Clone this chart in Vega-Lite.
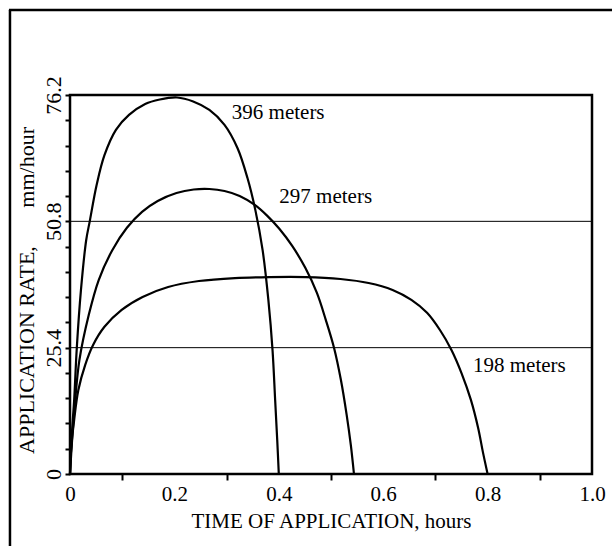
{
  "$schema": "https://vega.github.io/schema/vega-lite/v6.json",
  "autosize": {"type": "none"},
  "width": 522,
  "height": 379,
  "padding": {"left": 70, "top": 95, "right": 20, "bottom": 72},
  "background": "white",
  "config": {
    "font": "Liberation Serif",
    "view": {"stroke": "black", "strokeWidth": 2.5},
    "axis": {"domain": false, "grid": false, "tickColor": "black", "labelColor": "black", "titleColor": "black", "titleFontWeight": "normal", "labelFont": "Liberation Serif", "titleFont": "Liberation Serif", "labelOverlap": false}
  },
  "datasets": {
    "curves": [
      {"series": "396 meters", "t": 0, "rate": 0},
      {"series": "396 meters", "t": 0.004, "rate": 8.8},
      {"series": "396 meters", "t": 0.008, "rate": 14.9},
      {"series": "396 meters", "t": 0.013, "rate": 25.3},
      {"series": "396 meters", "t": 0.021, "rate": 37.0},
      {"series": "396 meters", "t": 0.031, "rate": 47.0},
      {"series": "396 meters", "t": 0.038, "rate": 50.9},
      {"series": "396 meters", "t": 0.051, "rate": 58.1},
      {"series": "396 meters", "t": 0.066, "rate": 64.1},
      {"series": "396 meters", "t": 0.088, "rate": 69.2},
      {"series": "396 meters", "t": 0.113, "rate": 72.2},
      {"series": "396 meters", "t": 0.144, "rate": 74.4},
      {"series": "396 meters", "t": 0.172, "rate": 75.3},
      {"series": "396 meters", "t": 0.205, "rate": 75.7},
      {"series": "396 meters", "t": 0.236, "rate": 74.9},
      {"series": "396 meters", "t": 0.267, "rate": 73.2},
      {"series": "396 meters", "t": 0.296, "rate": 70.2},
      {"series": "396 meters", "t": 0.321, "rate": 65.5},
      {"series": "396 meters", "t": 0.34, "rate": 59.5},
      {"series": "396 meters", "t": 0.355, "rate": 53.1},
      {"series": "396 meters", "t": 0.369, "rate": 45.0},
      {"series": "396 meters", "t": 0.38, "rate": 35.0},
      {"series": "396 meters", "t": 0.388, "rate": 24.9},
      {"series": "396 meters", "t": 0.393, "rate": 14.9},
      {"series": "396 meters", "t": 0.397, "rate": 6.8},
      {"series": "396 meters", "t": 0.4, "rate": 0},
      {"series": "297 meters", "t": 0, "rate": 0},
      {"series": "297 meters", "t": 0.004, "rate": 6.8},
      {"series": "297 meters", "t": 0.01, "rate": 14.9},
      {"series": "297 meters", "t": 0.018, "rate": 22.9},
      {"series": "297 meters", "t": 0.036, "rate": 32.0},
      {"series": "297 meters", "t": 0.055, "rate": 39.0},
      {"series": "297 meters", "t": 0.081, "rate": 45.0},
      {"series": "297 meters", "t": 0.109, "rate": 49.5},
      {"series": "297 meters", "t": 0.138, "rate": 52.7},
      {"series": "297 meters", "t": 0.168, "rate": 54.9},
      {"series": "297 meters", "t": 0.204, "rate": 56.5},
      {"series": "297 meters", "t": 0.237, "rate": 57.2},
      {"series": "297 meters", "t": 0.267, "rate": 57.3},
      {"series": "297 meters", "t": 0.296, "rate": 56.9},
      {"series": "297 meters", "t": 0.325, "rate": 55.9},
      {"series": "297 meters", "t": 0.354, "rate": 54.1},
      {"series": "297 meters", "t": 0.378, "rate": 51.9},
      {"series": "297 meters", "t": 0.401, "rate": 49.3},
      {"series": "297 meters", "t": 0.426, "rate": 45.8},
      {"series": "297 meters", "t": 0.451, "rate": 41.4},
      {"series": "297 meters", "t": 0.473, "rate": 36.4},
      {"series": "297 meters", "t": 0.49, "rate": 31.0},
      {"series": "297 meters", "t": 0.506, "rate": 25.3},
      {"series": "297 meters", "t": 0.519, "rate": 18.9},
      {"series": "297 meters", "t": 0.53, "rate": 11.9},
      {"series": "297 meters", "t": 0.538, "rate": 5.8},
      {"series": "297 meters", "t": 0.544, "rate": 0},
      {"series": "198 meters", "t": 0, "rate": 0},
      {"series": "198 meters", "t": 0.002, "rate": 4.8},
      {"series": "198 meters", "t": 0.008, "rate": 10.9},
      {"series": "198 meters", "t": 0.016, "rate": 16.9},
      {"series": "198 meters", "t": 0.029, "rate": 21.9},
      {"series": "198 meters", "t": 0.044, "rate": 25.9},
      {"series": "198 meters", "t": 0.066, "rate": 29.6},
      {"series": "198 meters", "t": 0.099, "rate": 33.0},
      {"series": "198 meters", "t": 0.139, "rate": 35.6},
      {"series": "198 meters", "t": 0.188, "rate": 37.6},
      {"series": "198 meters", "t": 0.247, "rate": 38.8},
      {"series": "198 meters", "t": 0.316, "rate": 39.4},
      {"series": "198 meters", "t": 0.382, "rate": 39.6},
      {"series": "198 meters", "t": 0.451, "rate": 39.6},
      {"series": "198 meters", "t": 0.518, "rate": 39.2},
      {"series": "198 meters", "t": 0.572, "rate": 38.4},
      {"series": "198 meters", "t": 0.618, "rate": 37.0},
      {"series": "198 meters", "t": 0.654, "rate": 35.0},
      {"series": "198 meters", "t": 0.684, "rate": 32.4},
      {"series": "198 meters", "t": 0.709, "rate": 28.9},
      {"series": "198 meters", "t": 0.731, "rate": 24.9},
      {"series": "198 meters", "t": 0.75, "rate": 20.3},
      {"series": "198 meters", "t": 0.768, "rate": 14.9},
      {"series": "198 meters", "t": 0.782, "rate": 9.2},
      {"series": "198 meters", "t": 0.791, "rate": 4.4},
      {"series": "198 meters", "t": 0.8, "rate": 0}
    ],
    "refs": [{"rate": 25.4}, {"rate": 50.8}],
    "labels": [
      {"label": "396 meters", "t": 0.31, "rate": 72.6},
      {"label": "297 meters", "t": 0.401, "rate": 55.7},
      {"label": "198 meters", "t": 0.772, "rate": 21.7}
    ]
  },
  "layer": [
    {
      "data": {"name": "curves"},
      "mark": {"type": "line", "color": "black", "strokeWidth": 2.2, "interpolate": "catmull-rom"},
      "encoding": {
        "x": {
          "field": "t", "type": "quantitative",
          "scale": {"domain": [0, 1], "nice": false, "zero": false},
          "axis": {
            "title": "TIME OF APPLICATION, hours",
            "titleFontSize": 21,
            "titlePadding": 6,
            "values": [0, 0.1, 0.2, 0.3, 0.4, 0.5, 0.6, 0.7, 0.8, 0.9, 1.0],
            "tickCount": 20,
            "labelExpr": "datum.value == 0 ? '0' : (round(datum.value * 10) % 2 == 0 ? format(datum.value, '.1f') : '')",
            "labelOverlap": false,
            "labelFontSize": 21,
            "labelPadding": 3,
            "labelFlush": false,
            "tickSize": 6,
            "tickWidth": 2,
            "tickOpacity": {"condition": {"test": "round(datum.value * 10) % 2 == 1", "value": 1}, "value": 0}
          }
        },
        "y": {
          "field": "rate", "type": "quantitative",
          "scale": {"domain": [0, 76.2], "nice": false, "zero": false},
          "axis": {
            "title": "APPLICATION RATE,\u00a0\u00a0\u00a0\u00a0\u00a0\u00a0\u00a0mm/hour",
            "titleFontSize": 22,
            "titlePadding": 4,
            "titleY": 195,
            "values": [0, 5.08, 10.16, 15.24, 20.32, 25.4, 30.48, 35.56, 40.64, 45.72, 50.8, 55.88, 60.96, 66.04, 71.12, 76.2],
            "tickCount": 30,
            "labelExpr": "datum.value < 0.01 ? '0' : (abs(datum.value - 25.4) < 0.01 ? '25.4' : (abs(datum.value - 50.8) < 0.01 ? '50.8' : (abs(datum.value - 76.2) < 0.01 ? '76.2' : '')))",
            "labelOverlap": false,
            "labelBound": false,
            "labelFlush": false,
            "labelAngle": -90,
            "labelFontSize": 22,
            "labelPadding": 0,
            "tickSize": 5,
            "tickWidth": 2
          }
        },
        "detail": {"field": "series", "type": "nominal"}
      }
    },
    {
      "data": {"name": "refs"},
      "mark": {"type": "rule", "color": "black", "strokeWidth": 1},
      "encoding": {
        "y": {"field": "rate", "type": "quantitative"}
      }
    },
    {
      "data": {"name": "labels"},
      "mark": {"type": "text", "align": "left", "baseline": "middle", "fontSize": 21, "color": "black", "font": "Liberation Serif"},
      "encoding": {
        "x": {"field": "t", "type": "quantitative"},
        "y": {"field": "rate", "type": "quantitative"},
        "text": {"field": "label"}
      }
    },
    {
      "data": {"values": [{}]},
      "mark": {"type": "rule", "color": "black", "strokeWidth": 2.5},
      "encoding": {
        "x": {"datum": -0.115},
        "y": {"datum": -20},
        "y2": {"datum": 93.3}
      }
    },
    {
      "data": {"values": [{}]},
      "mark": {"type": "rule", "color": "black", "strokeWidth": 2.5},
      "encoding": {
        "x": {"datum": -0.117},
        "x2": {"datum": 1.1},
        "y": {"datum": 93.3}
      }
    }
  ]
}
